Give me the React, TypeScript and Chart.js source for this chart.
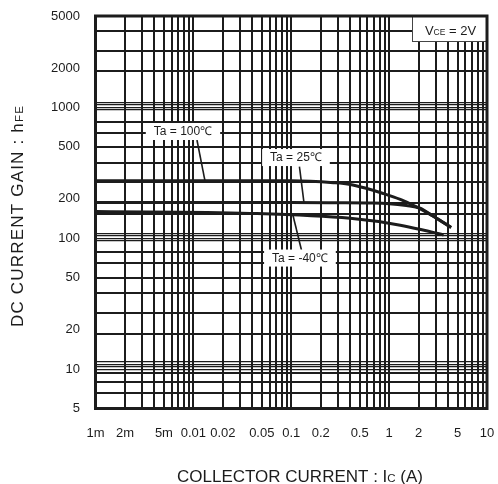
import React, { useEffect, useRef } from "react";
import { Chart, registerables } from "chart.js";

Chart.register(...registerables);

// Collector current grid (A): one line per 1..9 step in each decade
const xGridValues = [
  0.001, 0.002, 0.003, 0.004, 0.005, 0.006, 0.007, 0.008, 0.009,
  0.01, 0.02, 0.03, 0.04, 0.05, 0.06, 0.07, 0.08, 0.09,
  0.1, 0.2, 0.3, 0.4, 0.5, 0.6, 0.7, 0.8, 0.9,
  1, 2, 3, 4, 5, 6, 7, 8, 9,
  10,
];
const xTickValues = [0.001, 0.002, 0.005, 0.01, 0.02, 0.05, 0.1, 0.2, 0.5, 1, 2, 5, 10];
const xTickLabels = ["1m", "2m", "5m", "0.01", "0.02", "0.05", "0.1", "0.2", "0.5", "1", "2", "5", "10"];

// DC current gain grid lines
const yGridValues = [
  3860, 2710, 1900,
  1087, 1044, 1002, 956,
  770, 634, 496, 378, 270, 187, 153,
  109, 104, 100, 95.2,
  78, 64.3, 49.4, 38.3, 26.7, 18.5,
  11.4, 10.9, 10.4, 9.95,
  9.28, 8.0, 6.59,
];
// paired lines drawn thinner around each decade
const yFineValues = [1087, 1044, 1002, 956, 109, 104, 100, 95.2, 11.4, 10.9, 10.4, 9.95];
const yTickValues = [5000, 2000, 1000, 500, 200, 100, 50, 20, 10, 5];
const yTickLabels = ["5000", "2000", "1000", "500", "200", "100", "50", "20", "10", "5"];

// hFE vs Ic at VCE = 2V
const icTa100 = [0.001, 0.1, 0.27, 0.4, 0.58, 0.87, 1.3, 1.9, 2.8, 4.3];
const hfeTa100 = [275, 275, 266, 258, 241, 220, 198, 174, 148, 121];
const icTa25 = [0.001, 0.1, 0.3, 0.6, 1.0, 1.5, 2.07, 2.8, 4.3];
const hfeTa25 = [188, 188, 187, 186, 184, 178, 170, 148, 121];
const icTaM40 = [0.001, 0.038, 0.4, 1.3, 2.4, 3.6];
const hfeTaM40 = [160, 155, 142, 126, 114, 106];

// Curve callouts: box centre and leader ends, in data units
const callouts = [
  { text: "Ta = 100℃", box: [0.00783, 655], from: [0.01088, 564], to: [0.01314, 275] },
  { text: "Ta = 25℃", box: [0.1117, 414], from: [0.1212, 353], to: [0.1348, 188] },
  { text: "Ta = -40℃", box: [0.1227, 70.6], from: [0.1271, 81.3], to: [0.1041, 150] },
];

const FONT = "'Liberation Sans', Arial, Helvetica, sans-serif";
const INK = "#1c1c1c";

const near = (a: number, b: number) => Math.abs(a - b) <= Math.abs(b) * 1e-9;
const indexIn = (list: number[], v: number) => list.findIndex((w) => near(v, w));

const toPoints = (xs: number[], ys: number[]) => xs.map((x, i) => ({ x, y: ys[i] }));

// Draws a run of [text, size] parts on one baseline, centred on cx
function drawRuns(
  ctx: CanvasRenderingContext2D,
  runs: [string, number][],
  cx: number,
  cy: number,
  spacing = 0
) {
  (ctx as any).letterSpacing = `${spacing}px`;
  let total = 0;
  for (const [t, s] of runs) {
    ctx.font = `${s}px ${FONT}`;
    total += ctx.measureText(t).width;
  }
  let x = cx - total / 2;
  ctx.textAlign = "left";
  ctx.textBaseline = "alphabetic";
  for (const [t, s] of runs) {
    ctx.font = `${s}px ${FONT}`;
    ctx.fillText(t, x, cy);
    x += ctx.measureText(t).width;
  }
  (ctx as any).letterSpacing = "0px";
}

const overlay = {
  id: "overlay",
  afterDatasetsDraw(chart: any) {
    const { ctx, chartArea: a, scales } = chart;
    const xs = scales.x;
    const ys = scales.y;
    ctx.save();

    // callouts with leader lines
    for (const c of callouts) {
      const fx = xs.getPixelForValue(c.from[0]);
      const fy = ys.getPixelForValue(c.from[1]);
      const tx = xs.getPixelForValue(c.to[0]);
      const ty = ys.getPixelForValue(c.to[1]);
      ctx.strokeStyle = INK;
      ctx.lineWidth = 1.6;
      ctx.beginPath();
      ctx.moveTo(fx, fy);
      ctx.lineTo(tx, ty);
      ctx.stroke();

      const bx = xs.getPixelForValue(c.box[0]);
      const by = ys.getPixelForValue(c.box[1]);
      ctx.font = `12px ${FONT}`;
      const w = ctx.measureText(c.text).width + 16;
      const h = 17;
      ctx.fillStyle = "#ffffff";
      ctx.fillRect(bx - w / 2, by - h / 2, w, h);
      ctx.fillStyle = INK;
      ctx.textAlign = "center";
      ctx.textBaseline = "middle";
      ctx.fillText(c.text, bx, by + 0.5);
    }

    // condition box in the top-right corner
    const vw = 75;
    const vh = 25;
    ctx.fillStyle = "#ffffff";
    ctx.fillRect(a.right - vw, a.top, vw, vh);
    ctx.strokeStyle = "#444";
    ctx.lineWidth = 1;
    ctx.strokeRect(a.right - vw + 0.5, a.top + 0.5, vw, vh);
    ctx.fillStyle = INK;
    drawRuns(ctx, [["V", 13], ["CE", 8.5], [" = 2V", 13]], a.right - vw / 2 + 1, a.top + 19);

    // plot frame
    ctx.strokeStyle = INK;
    ctx.lineWidth = 3;
    ctx.strokeRect(a.left, a.top, a.right - a.left, a.bottom - a.top);
    ctx.restore();
  },
  afterDraw(chart: any) {
    const { ctx } = chart;
    ctx.save();
    ctx.fillStyle = INK;
    drawRuns(ctx, [["COLLECTOR CURRENT : I", 17], ["C", 11.5], [" (A)", 17]], 300, 482);
    ctx.translate(23, 216);
    ctx.rotate(-Math.PI / 2);
    drawRuns(ctx, [["DC CURRENT GAIN : h", 17], ["FE", 11.5]], 0, 0, 1.2);
    ctx.restore();
  },
};

// keep the plot area fixed regardless of label overhang
const noOverhang = (scale: any) => {
  scale.paddingTop = 0;
  scale.paddingBottom = 0;
  scale.paddingLeft = 0;
  scale.paddingRight = 0;
};

export default function App() {
  const canvasRef = useRef<HTMLCanvasElement | null>(null);

  useEffect(() => {
    if (!canvasRef.current) return;
    const curve = (data: { x: number; y: number }[]) => ({
      data,
      borderColor: INK,
      borderWidth: 3,
      pointRadius: 0,
      fill: false,
      cubicInterpolationMode: "monotone" as const,
    });

    const chart = new Chart(canvasRef.current, {
      type: "line",
      data: {
        datasets: [
          { label: "Ta = 100℃", ...curve(toPoints(icTa100, hfeTa100)) },
          { label: "Ta = 25℃", ...curve(toPoints(icTa25, hfeTa25)) },
          { label: "Ta = -40℃", ...curve(toPoints(icTaM40, hfeTaM40)) },
        ],
      },
      options: {
        animation: false,
        responsive: true,
        maintainAspectRatio: false,
        layout: { padding: { top: 16, right: 11, left: 0, bottom: 0 } },
        plugins: { legend: { display: false }, tooltip: { enabled: false } },
        scales: {
          x: {
            type: "logarithmic",
            min: 0.001,
            max: 10,
            afterBuildTicks: (scale: any) => {
              scale.ticks = xGridValues.map((value) => ({ value }));
            },
            afterFit: (scale: any) => {
              scale.height = 75.5;
              noOverhang(scale);
            },
            border: { display: false },
            grid: {
              drawTicks: false,
              color: INK,
              lineWidth: 2,
            },
            ticks: {
              autoSkip: false,
              maxRotation: 0,
              minRotation: 0,
              padding: 17,
              color: INK,
              font: { family: FONT, size: 13 },
              callback: (value: any) => {
                const i = indexIn(xTickValues, Number(value));
                return i >= 0 ? xTickLabels[i] : "";
              },
            },
          },
          y: {
            type: "logarithmic",
            min: 5,
            max: 5000,
            afterBuildTicks: (scale: any) => {
              const vals = [...yGridValues, ...yTickValues]
                .sort((p, q) => p - q)
                .filter((v, i, arr) => i === 0 || !near(v, arr[i - 1]));
              scale.ticks = vals.map((value) => ({ value }));
            },
            afterFit: (scale: any) => {
              scale.width = 95.5;
              noOverhang(scale);
            },
            border: { display: false },
            grid: {
              drawTicks: false,
              color: (c: any) =>
                c.tick && indexIn(yGridValues, c.tick.value) >= 0 ? INK : "rgba(0,0,0,0)",
              lineWidth: (c: any) =>
                c.tick && indexIn(yFineValues, c.tick.value) >= 0 ? 1.3 : 2,
            },
            ticks: {
              autoSkip: false,
              padding: 15.5,
              color: INK,
              font: { family: FONT, size: 13 },
              callback: (value: any) => {
                const i = indexIn(yTickValues, Number(value));
                return i >= 0 ? yTickLabels[i] : "";
              },
            },
          },
        },
      },
      plugins: [overlay],
    });
    return () => chart.destroy();
  }, []);

  return (
    <div style={{ position: "absolute", left: 0, top: 0, width: 498, height: 484, background: "#fff" }}>
      <canvas ref={canvasRef} />
    </div>
  );
}
